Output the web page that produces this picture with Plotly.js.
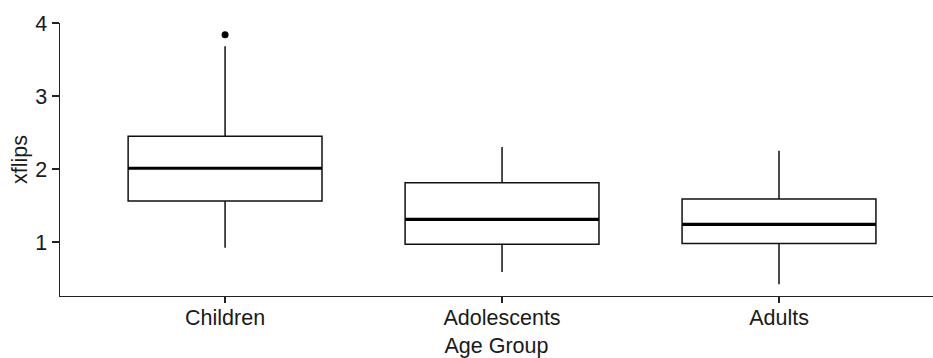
<!DOCTYPE html>
<html><head><meta charset="utf-8">
<script src="https://cdn.plot.ly/plotly-3.0.1.min.js"></script>
<style>html,body{margin:0;padding:0;background:#fff;overflow:hidden}#chart{width:933px;height:358px}</style>
</head><body><div id="chart"></div>
<script>
// Data
const categories = ['Children', 'Adolescents', 'Adults'];
const q1 = [1.56, 0.97, 0.98];
const median = [2.01, 1.31, 1.24];
const q3 = [2.45, 1.81, 1.59];
const lowerWhisker = [0.92, 0.59, 0.42];
const upperWhisker = [3.68, 2.30, 2.25];
const outlierGroup = ['Children'];
const outlierValues = [3.84];
const yTicks = [1, 2, 3, 4];

const FONT = 'Liberation Sans, Arial, sans-serif';
const INK = '#1a1a1a';
const BOXW = 0.7;

const boxTrace = {
  type: 'box',
  x: categories,
  q1: q1, median: median, q3: q3,
  lowerfence: lowerWhisker, upperfence: upperWhisker,
  boxpoints: false,
  width: BOXW,
  whiskerwidth: 0,
  fillcolor: 'rgba(255,255,255,0)',
  line: {color: '#111', width: 1.5},
  hoverinfo: 'skip'
};

const outlierTrace = {
  type: 'scatter', mode: 'markers',
  x: outlierGroup, y: outlierValues,
  marker: {color: '#000', size: 7},
  hoverinfo: 'skip'
};

const medianShapes = categories.map((c, i) => ({
  type: 'line', xref: 'x', yref: 'y',
  x0: i - BOXW / 2, x1: i + BOXW / 2,
  y0: median[i], y1: median[i],
  line: {color: '#000', width: 3.2}
}));

const axisCommon = {
  showline: true, linecolor: '#222', linewidth: 1.4,
  ticks: 'outside', ticklen: 7, tickwidth: 1.4, tickcolor: '#222',
  showgrid: false, zeroline: false,
  tickfont: {family: FONT, size: 21.5, color: INK}
};

const layout = {
  width: 933, height: 358,
  margin: {l: 60, r: 0, t: 23, b: 62},
  paper_bgcolor: '#fff', plot_bgcolor: '#fff',
  showlegend: false,
  shapes: medianShapes,
  xaxis: Object.assign({}, axisCommon, {
    type: 'category', categoryorder: 'array', categoryarray: categories,
    range: [-0.596, 2.556],
    ticklen: 6,
    ticklabelstandoff: -4,
    title: {text: 'Age Group', font: {family: FONT, size: 21.5, color: INK}, standoff: 11}
  }),
  yaxis: Object.assign({}, axisCommon, {
    range: [0.26, 4.0],
    tickvals: yTicks, ticktext: yTicks.map(String),
    title: {text: 'xflips', font: {family: FONT, size: 21.5, color: INK}, standoff: 2}
  })
};

Plotly.newPlot('chart', [boxTrace, outlierTrace], layout, {displayModeBar: false, staticPlot: true});
</script>
</body></html>
